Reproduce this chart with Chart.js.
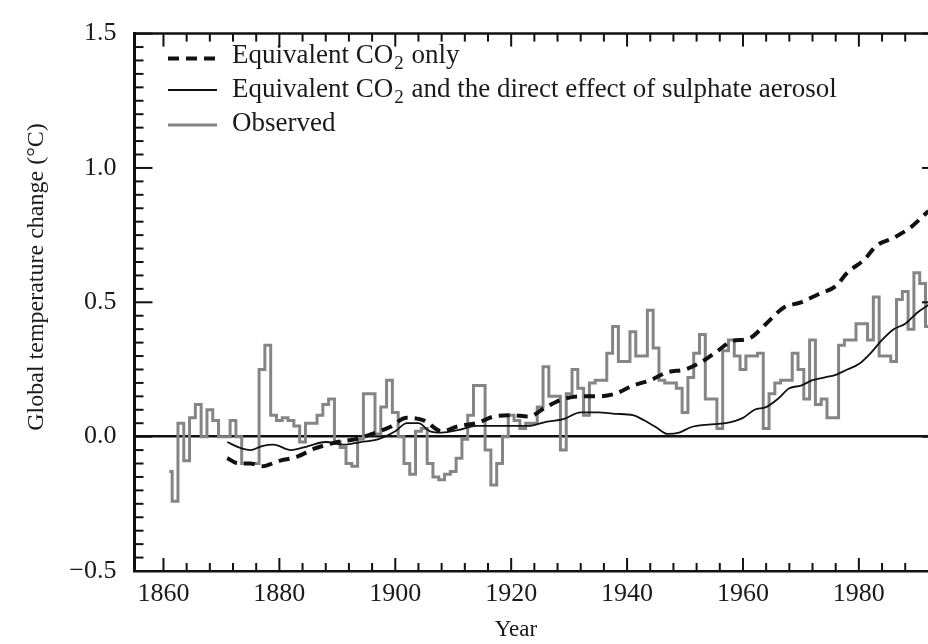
<!DOCTYPE html>
<html>
<head>
<meta charset="utf-8">
<title>Global temperature change</title>
<script src="https://cdn.jsdelivr.net/npm/chart.js@4.4.0/dist/chart.umd.min.js"></script>
<style>
html, body { margin: 0; padding: 0; overflow: hidden; background: #fff; }
#wrap { width: 950px; height: 644px; }
</style>
</head>
<body>
<div id="wrap"><canvas id="tempChart" width="950" height="644"></canvas></div>
<script>
// observed annual anomalies, 1861 onwards (one value per year)
const obsStart = 1861;
const obsValues = [
	-0.13, -0.24, 0.05, -0.09, 0.07, 0.12, 0.00, 0.10, 0.06, 0.00,
	0.00, 0.06, 0.00, -0.10, -0.10, -0.10, 0.25, 0.34, 0.08, 0.06,
	0.07, 0.06, 0.04, -0.02, 0.05, 0.05, 0.08, 0.12, 0.14, -0.02,
	-0.04, -0.10, -0.11, -0.01, 0.16, 0.16, 0.01, 0.11, 0.21, 0.09,
	0.00, -0.10, -0.14, 0.02, 0.03, -0.10, -0.15, -0.16, -0.14, -0.13,
	-0.08, -0.01, 0.08, 0.19, 0.19, -0.05, -0.18, -0.10, 0.00, 0.08,
	0.06, 0.03, 0.05, 0.05, 0.11, 0.26, 0.15, 0.15, -0.05, 0.16,
	0.25, 0.18, 0.08, 0.20, 0.21, 0.21, 0.31, 0.41, 0.28, 0.28,
	0.39, 0.30, 0.30, 0.47, 0.33, 0.21, 0.20, 0.20, 0.18, 0.09,
	0.22, 0.31, 0.38, 0.14, 0.14, 0.03, 0.32, 0.36, 0.30, 0.25,
	0.30, 0.30, 0.31, 0.03, 0.16, 0.20, 0.21, 0.21, 0.31, 0.25,
	0.14, 0.36, 0.12, 0.14, 0.07, 0.07, 0.34, 0.36, 0.36, 0.42,
	0.42, 0.36, 0.52, 0.30, 0.30, 0.28, 0.51, 0.54, 0.40, 0.61,
	0.57, 0.41
];

// model: equivalent CO2 only
const co2Years = [1871, 1873, 1875, 1877, 1880, 1883, 1886, 1890, 1893, 1896, 1899, 1902, 1905, 1908, 1911, 1914, 1917, 1920, 1923,
	1926, 1929, 1932, 1935, 1938, 1941, 1944, 1947, 1950, 1953, 1956, 1958, 1961, 1964, 1967, 1970, 1973, 1976, 1978, 1981, 1983, 1986, 1989, 1992];
const co2Values = [-0.08, -0.10, -0.10, -0.11, -0.09, -0.075, -0.045, -0.02, -0.01, 0.01, 0.035, 0.07, 0.06, 0.02, 0.04, 0.05, 0.075, 0.08, 0.075,
	0.11, 0.14, 0.15, 0.15, 0.16, 0.19, 0.21, 0.24, 0.25, 0.28, 0.325, 0.355, 0.365, 0.42, 0.48, 0.50, 0.53, 0.56, 0.61, 0.66, 0.71, 0.74, 0.78, 0.84];

// model: equivalent CO2 + direct sulphate aerosol effect
const sulYears = [1871, 1873, 1875, 1877, 1879, 1882, 1885, 1888, 1891, 1894, 1897, 1900, 1902, 1904, 1906, 1908, 1911, 1914, 1917, 1920, 1923,
	1926, 1929, 1932, 1935, 1938, 1941, 1943, 1945, 1947, 1949, 1951, 1954, 1957, 1960, 1962, 1964, 1966, 1968, 1970, 1972, 1974, 1976,
	1978, 1980, 1982, 1984, 1986, 1988, 1990, 1992];
const sulValues = [-0.02, -0.04, -0.05, -0.035, -0.03, -0.05, -0.035, -0.02, -0.03, -0.02, -0.01, 0.02, 0.05, 0.05, 0.02, 0.015, 0.025, 0.04, 0.04, 0.04, 0.04,
	0.055, 0.065, 0.09, 0.09, 0.085, 0.08, 0.06, 0.035, 0.01, 0.015, 0.035, 0.045, 0.05, 0.07, 0.10, 0.11, 0.14, 0.18, 0.19, 0.21, 0.22, 0.23,
	0.25, 0.27, 0.31, 0.36, 0.40, 0.42, 0.46, 0.49];

const seriesLabels = ['Equivalent CO₂ only', 'Equivalent CO₂ and the direct effect of sulphate aerosol', 'Observed'];
const xTickLabels = [1860, 1880, 1900, 1920, 1940, 1960, 1980];
const yTickLabels = [-0.5, 0.0, 0.5, 1.0, 1.5];
const xTitle = 'Year';
const yTitle = 'Global temperature change (°C)';

const serif = '"Liberation Serif", "DejaVu Serif", serif';

function toPoints(xs, ys) {
	return ys.map((v, i) => ({ x: xs[i], y: v }));
}
const obsPoints = obsValues.map((v, i) => ({ x: obsStart + i, y: v }));

function isMajorY(v) {
	return yTickLabels.some(t => Math.abs(t - v) < 1e-6);
}

// draws text and shows "₂" as a lowered small 2
function drawRich(ctx, text, x, y, size) {
	var parts = text.split('₂');
	for (var i = 0; i < parts.length; i++) {
		ctx.font = size + 'px ' + serif;
		ctx.fillText(parts[i], x, y);
		x += ctx.measureText(parts[i]).width;
		if (i < parts.length - 1) {
			ctx.font = Math.round(size * 0.7) + 'px ' + serif;
			ctx.fillText('2', x + 1, y + 6);
			x += ctx.measureText('2').width + 2;
		}
	}
}

const framePlugin = {
	id: 'frame',
	afterDatasetsDraw(chart) {
		const ctx = chart.ctx, area = chart.chartArea;
		const xs = chart.scales.x, ys = chart.scales.y;
		function line(x1, y1, x2, y2) {
			ctx.beginPath(); ctx.moveTo(x1, y1); ctx.lineTo(x2, y2); ctx.stroke();
		}
		ctx.save();
		ctx.strokeStyle = '#111';
		ctx.lineWidth = 2.5;
		line(area.left, area.top, area.right, area.top);
		ctx.lineWidth = 2;
		xs.ticks.forEach(t => {
			if (t.value % 4 !== 0) return;
			const px = xs.getPixelForValue(t.value);
			const len = t.value % 20 === 0 ? 13 : 8;
			line(px, area.bottom, px, area.bottom - len);
			line(px, area.top, px, area.top + len);
		});
		ys.ticks.forEach(t => {
			const py = ys.getPixelForValue(t.value);
			const len = isMajorY(t.value) ? 18 : 9;
			line(area.left, py, area.left + len, py);
			line(area.right, py, area.right - len, py);
		});

		// legend
		const rows = [{ line: 58.5, base: 63 }, { line: 90, base: 96.5 }, { line: 125, base: 131 }];
		chart.data.datasets.forEach((ds, i) => {
			ctx.strokeStyle = ds.borderColor;
			ctx.lineWidth = ds.borderWidth;
			ctx.setLineDash(ds.borderDash || []);
			line(168, rows[i].line, 217, rows[i].line);
			ctx.setLineDash([]);
			ctx.fillStyle = '#1a1a1a';
			ctx.textAlign = 'left';
			ctx.textBaseline = 'alphabetic';
			drawRich(ctx, ds.label, 232, rows[i].base, 27);
		});

		// axis titles
		ctx.fillStyle = '#1a1a1a';
		ctx.textAlign = 'center';
		ctx.textBaseline = 'middle';
		ctx.font = '23px ' + serif;
		ctx.fillText(xTitle, 516, 630);
		ctx.translate(37, 277);
		ctx.rotate(-Math.PI / 2);
		ctx.font = '24px ' + serif;
		ctx.fillText(yTitle, 0, 0);
		ctx.restore();
	}
};

const chart = new Chart(document.getElementById('tempChart'), {
	type: 'line',
	data: {
		datasets: [{
			label: seriesLabels[0],
			data: toPoints(co2Years, co2Values),
			borderColor: '#111',
			borderWidth: 4,
			borderDash: [11, 7],
			cubicInterpolationMode: 'monotone',
			pointRadius: 0,
			fill: false
		}, {
			label: seriesLabels[1],
			data: toPoints(sulYears, sulValues),
			borderColor: '#111',
			borderWidth: 1.8,
			cubicInterpolationMode: 'monotone',
			pointRadius: 0,
			fill: false
		}, {
			label: seriesLabels[2],
			data: obsPoints,
			borderColor: '#858585',
			borderWidth: 3,
			stepped: 'middle',
			pointRadius: 0,
			fill: false
		}]
	},
	options: {
		responsive: false,
		animation: false,
		layout: { padding: { top: 13, right: 10, left: 0, bottom: 0 } },
		plugins: { legend: { display: false }, tooltip: { enabled: false } },
		scales: {
			x: {
				type: 'linear',
				min: 1855,
				max: 1994,
				afterFit: s => { s.height = 73; },
				border: { display: true, color: '#111', width: 2.5 },
				grid: { display: false, drawTicks: false },
				ticks: {
					stepSize: 4,
					autoSkip: false,
					maxRotation: 0,
					padding: 8,
					color: '#1a1a1a',
					font: { family: serif, size: 26 },
					callback: v => xTickLabels.includes(v) ? String(v) : ''
				}
			},
			y: {
				min: -0.5,
				max: 1.5,
				afterFit: s => { s.width = 134.5; },
				border: { display: true, color: '#111', width: 3 },
				grid: {
					drawTicks: false,
					color: c => Math.abs(c.tick.value) < 1e-9 ? '#111' : 'rgba(0,0,0,0)',
					lineWidth: c => Math.abs(c.tick.value) < 1e-9 ? 2.5 : 0
				},
				ticks: {
					stepSize: 0.05,
					maxTicksLimit: 100,
					autoSkip: false,
					padding: 18,
					color: '#1a1a1a',
					font: { family: serif, size: 26 },
					callback: v => isMajorY(v) ? v.toFixed(1).replace('-', '−') : ''
				}
			}
		}
	},
	plugins: [framePlugin]
});
</script>
</body>
</html>
